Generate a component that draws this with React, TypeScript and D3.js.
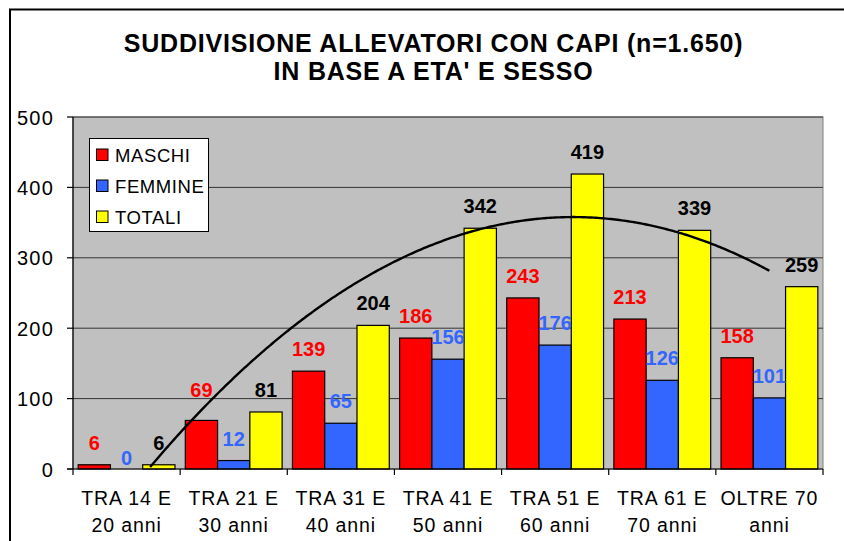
import React from "react";
import * as d3 from "d3";

const categoriesLine1 = ["TRA 14 E", "TRA 21 E", "TRA 31 E", "TRA 41 E", "TRA 51 E", "TRA 61 E", "OLTRE 70"];
const categoriesLine2 = ["20 anni", "30 anni", "40 anni", "50 anni", "60 anni", "70 anni", "anni"];
const seriesNames = ["MASCHI", "FEMMINE", "TOTALI"];
const maschi = [6, 69, 139, 186, 243, 213, 158];
const femmine = [0, 12, 65, 156, 176, 126, 101];
const totali = [6, 81, 204, 342, 419, 339, 259];
const yTicks = [0, 100, 200, 300, 400, 500];
const titleLines = ["SUDDIVISIONE ALLEVATORI CON CAPI (n=1.650)", "IN BASE A ETA' E SESSO"];

const seriesValues = [maschi, femmine, totali];
const barColors = ["#FF0000", "#3366FF", "#FFFF00"];
const labelColors = ["#FF0000", "#3366FF", "#000000"];
// small manual label nudges (px), as in the reference
const labelNudge: Record<string, number> = { "0-1": -8, "1-0": 11 };

const W = 844, H = 541;
const plot = { left: 73, right: 823, top: 117, bottom: 469 };
const FONT = "Arial, 'Liberation Sans', Helvetica, sans-serif";

function quadFit(ys: number[]) {
  const xs = ys.map((_, i) => i + 1);
  const s = [0, 0, 0, 0, 0], t = [0, 0, 0];
  xs.forEach((x, i) => {
    for (let k = 0; k < 5; k++) s[k] += Math.pow(x, k);
    for (let k = 0; k < 3; k++) t[k] += Math.pow(x, k) * ys[i];
  });
  const A = [
    [s[0], s[1], s[2], t[0]],
    [s[1], s[2], s[3], t[1]],
    [s[2], s[3], s[4], t[2]],
  ];
  for (let i = 0; i < 3; i++) {
    for (let j = i + 1; j < 3; j++) {
      const f = A[j][i] / A[i][i];
      for (let k = i; k < 4; k++) A[j][k] -= f * A[i][k];
    }
  }
  const c = [0, 0, 0];
  for (let i = 2; i >= 0; i--) {
    let v = A[i][3];
    for (let k = i + 1; k < 3; k++) v -= A[i][k] * c[k];
    c[i] = v / A[i][i];
  }
  return (x: number) => c[0] + c[1] * x + c[2] * x * x;
}

export default function App() {
  const x = d3.scaleBand<number>().domain(d3.range(categoriesLine1.length)).range([plot.left, plot.right]).paddingInner(0).paddingOuter(0);
  const xs = d3.scaleBand<number>().domain(d3.range(seriesNames.length)).range([0, x.bandwidth()]).paddingInner(0).paddingOuter(0.16);
  const y = d3.scaleLinear().domain([0, 500]).range([plot.bottom, plot.top]);

  const fit = quadFit(totali);
  const xCont = d3.scaleLinear().domain([1, categoriesLine1.length]).range([x(0)! + x.bandwidth() / 2, x(categoriesLine1.length - 1)! + x.bandwidth() / 2]);
  const pts: [number, number][] = [];
  for (let t = 1; t <= categoriesLine1.length + 1e-9; t += 0.02) {
    const v = fit(t);
    if (v >= 0) pts.push([xCont(t), y(v)]);
  }
  const line = d3.line().curve(d3.curveLinear)(pts) || "";

  return (
    <svg width={W} height={H} style={{ position: "absolute", left: 0, top: 0, background: "#fff" }} fontFamily={FONT}>
      <rect x={0} y={0} width={W} height={H} fill="#fff" />
      <rect x={10} y={9.5} width={W + 20} height={H + 20} fill="none" stroke="#000" strokeWidth={2} />

      {titleLines.map((t, i) => (
        <text key={i} x={433.5} y={i === 0 ? 51.7 : 80} textAnchor="middle" fontSize={25} fontWeight="bold" letterSpacing={0.8} fill="#000">{t}</text>
      ))}

      <rect x={plot.left} y={plot.top} width={plot.right - plot.left} height={plot.bottom - plot.top} fill="#C0C0C0" stroke="#808080" strokeWidth={1} />
      {yTicks.filter((v) => v > 0).map((v) => (
        <line key={v} x1={plot.left} x2={plot.right} y1={y(v)} y2={y(v)} stroke="#333" strokeWidth={1} />
      ))}

      {seriesValues.map((vals, s) =>
        vals.map((v, i) => (
          <rect key={`${s}-${i}`} x={x(i)! + xs(s)!} y={y(v)} width={xs.bandwidth()} height={y(0) - y(v)} fill={barColors[s]} stroke="#000" strokeWidth={1.2} />
        ))
      )}

      <path d={line} fill="none" stroke="#000" strokeWidth={2.4} />

      {seriesValues.map((vals, s) =>
        vals.map((v, i) => (
          <text key={`l${s}-${i}`} x={x(i)! + xs(s)! + xs.bandwidth() / 2} y={y(v) - 15 + (labelNudge[`${s}-${i}`] || 0)} textAnchor="middle" fontSize={20} fontWeight="bold" fill={labelColors[s]}>{v}</text>
        ))
      )}

      <line x1={plot.left} x2={plot.left} y1={plot.top} y2={plot.bottom} stroke="#000" strokeWidth={1.2} />
      <line x1={plot.left - 6} x2={plot.right} y1={plot.bottom} y2={plot.bottom} stroke="#000" strokeWidth={1.2} />
      {yTicks.map((v) => (
        <g key={`yt${v}`}>
          <line x1={plot.left - 6} x2={plot.left} y1={y(v)} y2={y(v)} stroke="#000" strokeWidth={1.2} />
          <text x={54} y={y(v) + 7.5} textAnchor="end" fontSize={20} letterSpacing={1.2} fill="#000">{v}</text>
        </g>
      ))}
      {d3.range(categoriesLine1.length + 1).map((i) => {
        const xx = i < categoriesLine1.length ? x(i)! : plot.right;
        return <line key={`xt${i}`} x1={xx} x2={xx} y1={plot.bottom} y2={plot.bottom + 6} stroke="#000" strokeWidth={1.2} />;
      })}
      {categoriesLine1.map((c, i) => (
        <g key={`xl${i}`}>
          <text x={x(i)! + x.bandwidth() / 2} y={505} textAnchor="middle" fontSize={19.5} letterSpacing={0.9} fill="#000">{c}</text>
          <text x={x(i)! + x.bandwidth() / 2} y={531.7} textAnchor="middle" fontSize={19.5} letterSpacing={0.9} fill="#000">{categoriesLine2[i]}</text>
        </g>
      ))}

      <g>
        <rect x={89.5} y={138.5} width={119} height={93} fill="#fff" stroke="#000" strokeWidth={1} />
        {seriesNames.map((n, i) => (
          <g key={n} transform={`translate(0, ${155 + i * 31})`}>
            <rect x={96.5} y={-6} width={11.5} height={11.5} fill={barColors[i]} stroke="#000" strokeWidth={1} />
            <text x={115} y={6.5} fontSize={18.5} letterSpacing={0.6} fill="#000">{n}</text>
          </g>
        ))}
      </g>
    </svg>
  );
}
